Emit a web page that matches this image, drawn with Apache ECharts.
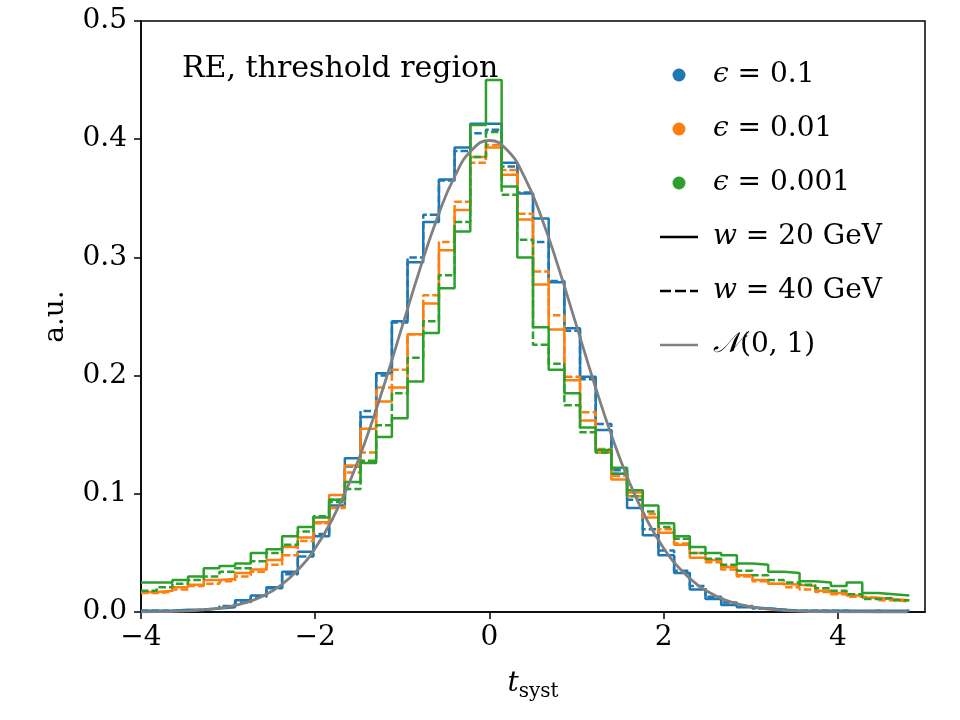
<!DOCTYPE html>
<html>
<head>
<meta charset="utf-8">
<script src="https://cdn.jsdelivr.net/npm/echarts@6/dist/echarts.min.js"></script>
<style>
    html, body { margin: 0; padding: 0; background: #fff; }
    #chart { width: 960px; height: 720px; }
</style>
</head>
<body>
<div id="chart"></div>
<script>
// bin edges of the histograms (49 bins, width 0.18)
const binEdges = [-4.00, -3.82, -3.64, -3.46, -3.28, -3.10, -2.92, -2.74, -2.56, -2.38,
    -2.20, -2.02, -1.84, -1.66, -1.48, -1.30, -1.12, -0.94, -0.76, -0.58,
    -0.40, -0.22, -0.04, 0.14, 0.32, 0.50, 0.68, 0.86, 1.04, 1.22,
    1.40, 1.58, 1.76, 1.94, 2.12, 2.30, 2.48, 2.66, 2.84, 3.02,
    3.20, 3.38, 3.56, 3.74, 3.92, 4.10, 4.28, 4.46, 4.64, 4.82]

// eps = 0.1
const blueW20 = [0.001, 0.001, 0.002, 0.002, 0.003, 0.004, 0.010, 0.014, 0.021, 0.034,
    0.051, 0.064, 0.090, 0.130, 0.165, 0.202, 0.246, 0.296, 0.330, 0.366,
    0.393, 0.413, 0.413, 0.380, 0.354, 0.333, 0.279, 0.240, 0.199, 0.154,
    0.117, 0.088, 0.065, 0.048, 0.033, 0.019, 0.011, 0.006, 0.004, 0.003,
    0.002, 0.001, 0.001, 0.001, 0.001, 0.001, 0.001, 0.001, 0.001]
const blueW40 = [0.001, 0.001, 0.001, 0.002, 0.003, 0.005, 0.008, 0.013, 0.020, 0.032,
    0.047, 0.066, 0.095, 0.123, 0.170, 0.200, 0.245, 0.300, 0.336, 0.365,
    0.390, 0.405, 0.408, 0.377, 0.355, 0.313, 0.280, 0.238, 0.197, 0.159,
    0.120, 0.095, 0.070, 0.052, 0.035, 0.022, 0.013, 0.008, 0.005, 0.003,
    0.002, 0.001, 0.001, 0.001, 0.001, 0.000, 0.001, 0.000, 0.001]
// eps = 0.01
const orangeW20 = [0.017, 0.018, 0.021, 0.023, 0.027, 0.028, 0.033, 0.036, 0.044, 0.055,
    0.063, 0.076, 0.099, 0.124, 0.155, 0.178, 0.190, 0.235, 0.261, 0.306,
    0.340, 0.385, 0.393, 0.370, 0.332, 0.277, 0.239, 0.196, 0.162, 0.135,
    0.112, 0.101, 0.080, 0.067, 0.057, 0.046, 0.044, 0.038, 0.031, 0.027,
    0.024, 0.023, 0.022, 0.018, 0.016, 0.014, 0.012, 0.011, 0.010]
const orangeW40 = [0.016, 0.017, 0.019, 0.022, 0.024, 0.026, 0.030, 0.034, 0.040, 0.048,
    0.060, 0.075, 0.088, 0.118, 0.135, 0.190, 0.205, 0.235, 0.268, 0.313,
    0.347, 0.380, 0.395, 0.374, 0.337, 0.288, 0.251, 0.199, 0.169, 0.138,
    0.115, 0.098, 0.083, 0.070, 0.058, 0.050, 0.042, 0.036, 0.030, 0.026,
    0.024, 0.021, 0.019, 0.017, 0.015, 0.013, 0.012, 0.010, 0.009]
// eps = 0.001
const greenW20 = [0.025, 0.025, 0.027, 0.030, 0.037, 0.039, 0.041, 0.050, 0.053, 0.064,
    0.072, 0.080, 0.095, 0.110, 0.126, 0.148, 0.164, 0.195, 0.236, 0.274,
    0.322, 0.412, 0.450, 0.360, 0.300, 0.241, 0.205, 0.185, 0.156, 0.137,
    0.122, 0.103, 0.090, 0.075, 0.064, 0.055, 0.050, 0.048, 0.041, 0.040,
    0.034, 0.033, 0.026, 0.025, 0.022, 0.025, 0.016, 0.015, 0.014]
const greenW40 = [0.018, 0.021, 0.024, 0.027, 0.030, 0.034, 0.037, 0.043, 0.050, 0.057,
    0.068, 0.081, 0.093, 0.104, 0.128, 0.158, 0.185, 0.215, 0.246, 0.285,
    0.330, 0.385, 0.406, 0.353, 0.315, 0.226, 0.210, 0.175, 0.152, 0.135,
    0.117, 0.098, 0.085, 0.072, 0.062, 0.050, 0.045, 0.040, 0.035, 0.031,
    0.027, 0.025, 0.023, 0.020, 0.018, 0.015, 0.011, 0.012, 0.010]

// N(0,1) curve
const normX = [-4.0, -3.8, -3.6, -3.4, -3.2, -3.0, -2.8, -2.6, -2.4, -2.2,
    -2.0, -1.8, -1.6, -1.4, -1.2, -1.0, -0.8, -0.6, -0.4, -0.2,
    0.0, 0.2, 0.4, 0.6, 0.8, 1.0, 1.2, 1.4, 1.6, 1.8,
    2.0, 2.2, 2.4, 2.6, 2.8, 3.0, 3.2, 3.4, 3.6, 3.8,
    4.0, 4.2, 4.4, 4.6, 4.8]
const normY = [0.0001, 0.0003, 0.0006, 0.0012, 0.0024, 0.0044, 0.0079, 0.0136, 0.0224, 0.0355,
    0.0540, 0.0790, 0.1109, 0.1497, 0.1942, 0.2420, 0.2897, 0.3332, 0.3683, 0.3910,
    0.3989, 0.3910, 0.3683, 0.3332, 0.2897, 0.2420, 0.1942, 0.1497, 0.1109, 0.0790,
    0.0540, 0.0355, 0.0224, 0.0136, 0.0079, 0.0044, 0.0024, 0.0012, 0.0006, 0.0003,
    0.0001, 0.0001, 0.0000, 0.0000, 0.0000]

const xTicks = [-4, -2, 0, 2, 4]

const FONT = 'DejaVu Serif'
const BLUE = '#1f77b4'
const ORANGE = '#ff7f0e'
const GREEN = '#2ca02c'
const DASH = [7.5, 3]

// legend icons for the line entries
const ICON_SOLID = 'path://M0,0h38v2.5h-38z'
const ICON_DASHED = 'path://M0,0h11v2.5h-11z M15,0h11v2.5h-11z M30,0h8v2.5h-8z'

const legendLabels = {
    e1: '{i|ϵ} = 0.1',
    e2: '{i|ϵ} = 0.01',
    e3: '{i|ϵ} = 0.001',
    w20: '{i|w} = 20 GeV',
    w40: '{i|w} = 40 GeV',
    norm: '{i|𝒩}(0, 1)'
}

function stairs(vals) {
    // one point per bin edge, last edge repeats the last bin
    return binEdges.map((x, i) => [x, vals[Math.min(i, vals.length - 1)]])
}

function histSeries(vals, color, dashed) {
    return {
        type: 'line',
        step: 'end',
        data: stairs(vals),
        showSymbol: false,
        symbol: 'none',
        silent: true,
        lineStyle: { color, width: 2.5, type: dashed ? DASH : 'solid', cap: 'butt' }
    }
}

function legendEntry(name, color) {
    return { name, type: 'scatter', data: [], itemStyle: { color, opacity: 1 } }
}

const chart = echarts.init(document.getElementById('chart'), null, { renderer: 'canvas' })

const option = {
    animation: false,
    backgroundColor: '#fff',
    title: {
        text: 'RE, threshold region',
        left: 177,
        top: 49,
        textStyle: { fontFamily: FONT, fontSize: 30, fontWeight: 'normal', color: '#000' }
    },
    legend: {
        orient: 'vertical',
        left: 655,
        top: 55,
        itemWidth: 38,
        itemHeight: 13,
        itemGap: 24,
        selectedMode: false,
        itemStyle: { opacity: 1 },
        data: [
            { name: 'e1', icon: 'circle' },
            { name: 'e2', icon: 'circle' },
            { name: 'e3', icon: 'circle' },
            { name: 'w20', icon: ICON_SOLID },
            { name: 'w40', icon: ICON_DASHED },
            { name: 'norm', icon: ICON_SOLID }
        ],
        formatter: name => legendLabels[name],
        textStyle: {
            fontFamily: FONT,
            fontSize: 28,
            lineHeight: 30,
            color: '#000',
            padding: [0, 0, 0, 10],
            rich: {
                i: { fontFamily: FONT, fontSize: 28, fontStyle: 'italic', color: '#000' }
            }
        }
    },
    grid: {
        left: 141,
        right: 35,
        top: 21,
        bottom: 108,
        show: true,
        borderColor: '#000',
        borderWidth: 1.5,
        backgroundColor: 'transparent'
    },
    xAxis: {
        type: 'value',
        min: -4,
        max: 5,
        interval: 2,
        name: '{t|t}{s|syst}',
        nameLocation: 'middle',
        nameGap: 54,
        nameTextStyle: {
            rich: {
                t: { fontFamily: FONT, fontSize: 28, fontStyle: 'italic', color: '#000' },
                s: { fontFamily: FONT, fontSize: 20, color: '#000', padding: [16, 0, 0, 0] }
            }
        },
        axisLine: { onZero: false, lineStyle: { color: '#000', width: 1.5 } },
        axisTick: { show: true, length: 7, lineStyle: { color: '#000', width: 1.5 }, customValues: xTicks },
        axisLabel: {
            customValues: xTicks,
            margin: 12,
            fontFamily: FONT,
            fontSize: 28,
            color: '#000',
            formatter: v => String(v).replace('-', '\u2212')
        },
        splitLine: { show: false }
    },
    yAxis: {
        type: 'value',
        min: 0,
        max: 0.5,
        interval: 0.1,
        name: 'a.u.',
        nameLocation: 'middle',
        nameGap: 71,
        nameRotate: 90,
        nameTextStyle: { fontFamily: FONT, fontSize: 28, color: '#000' },
        axisLine: { show: true, onZero: false, lineStyle: { color: '#000', width: 1.5 } },
        axisTick: { show: true, length: 7, lineStyle: { color: '#000', width: 1.5 } },
        axisLabel: {
            margin: 14,
            fontFamily: FONT,
            fontSize: 28,
            color: '#000',
            formatter: v => v.toFixed(1)
        },
        splitLine: { show: false }
    },
    series: [
        histSeries(blueW20, BLUE, false),
        histSeries(blueW40, BLUE, true),
        histSeries(orangeW20, ORANGE, false),
        histSeries(orangeW40, ORANGE, true),
        histSeries(greenW20, GREEN, false),
        histSeries(greenW40, GREEN, true),
        {
            type: 'line',
            smooth: true,
            data: normX.map((x, i) => [x, normY[i]]),
            showSymbol: false,
            symbol: 'none',
            silent: true,
            lineStyle: { color: '#808080', width: 2.8 }
        },
        legendEntry('e1', BLUE),
        legendEntry('e2', ORANGE),
        legendEntry('e3', GREEN),
        legendEntry('w20', '#000'),
        legendEntry('w40', '#000'),
        legendEntry('norm', '#808080')
    ]
}

chart.setOption(option)
</script>
</body>
</html>
